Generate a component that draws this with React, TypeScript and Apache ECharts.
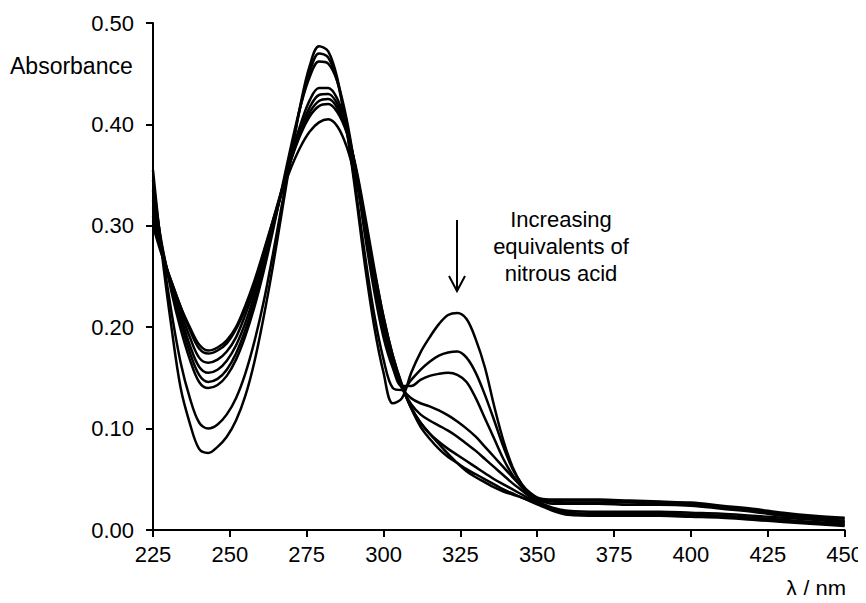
import React, { useEffect, useRef } from "react";
import * as echarts from "echarts";

const wavelengths = [225, 228, 231, 234, 237, 240, 243, 246, 249, 252, 255, 258, 261, 264, 267, 270, 273, 276, 279, 282, 285, 288, 291, 294, 297, 300, 303, 306, 309, 312, 315, 318, 321, 324, 327, 330, 333, 336, 339, 342, 345, 348, 351, 355, 360, 370, 380, 390, 400, 410, 420, 430, 440, 450];

const curveA = [0.355, 0.27, 0.2, 0.14, 0.105, 0.08, 0.076, 0.082, 0.092, 0.108, 0.132, 0.166, 0.21, 0.26, 0.315, 0.37, 0.42, 0.458, 0.477, 0.472, 0.445, 0.395, 0.33, 0.26, 0.2, 0.155, 0.125, 0.13, 0.155, 0.175, 0.19, 0.203, 0.212, 0.214, 0.208, 0.188, 0.16, 0.122, 0.088, 0.062, 0.045, 0.036, 0.031, 0.03, 0.03, 0.03, 0.029, 0.028, 0.027, 0.024, 0.021, 0.017, 0.014, 0.012];
const curveB = [0.345, 0.275, 0.215, 0.165, 0.13, 0.106, 0.1, 0.104, 0.114, 0.13, 0.154, 0.186, 0.225, 0.272, 0.322, 0.372, 0.418, 0.452, 0.47, 0.466, 0.442, 0.395, 0.335, 0.27, 0.212, 0.168, 0.14, 0.138, 0.148, 0.158, 0.166, 0.172, 0.175, 0.176, 0.17, 0.155, 0.133, 0.108, 0.082, 0.06, 0.045, 0.035, 0.03, 0.029, 0.029, 0.029, 0.028, 0.027, 0.026, 0.023, 0.02, 0.016, 0.013, 0.011];
const curveC = [0.335, 0.28, 0.235, 0.198, 0.168, 0.146, 0.14, 0.143, 0.152, 0.168, 0.191, 0.22, 0.255, 0.295, 0.338, 0.38, 0.418, 0.447, 0.462, 0.46, 0.442, 0.405, 0.352, 0.29, 0.235, 0.19, 0.16, 0.142, 0.142, 0.148, 0.152, 0.154, 0.155, 0.153, 0.146, 0.13, 0.11, 0.09, 0.07, 0.054, 0.042, 0.034, 0.029, 0.028, 0.027, 0.027, 0.027, 0.026, 0.025, 0.022, 0.019, 0.015, 0.012, 0.009];
const curveD = [0.325, 0.278, 0.24, 0.205, 0.175, 0.153, 0.146, 0.149, 0.158, 0.174, 0.197, 0.226, 0.26, 0.298, 0.335, 0.37, 0.4, 0.424, 0.436, 0.436, 0.425, 0.398, 0.355, 0.3, 0.245, 0.198, 0.163, 0.14, 0.13, 0.125, 0.122, 0.118, 0.113, 0.107, 0.1, 0.092, 0.082, 0.072, 0.062, 0.052, 0.043, 0.035, 0.029, 0.026, 0.026, 0.026, 0.025, 0.025, 0.024, 0.021, 0.018, 0.014, 0.011, 0.008];
const curveE = [0.318, 0.275, 0.24, 0.21, 0.182, 0.161, 0.155, 0.158, 0.167, 0.182, 0.204, 0.232, 0.265, 0.3, 0.335, 0.367, 0.395, 0.417, 0.429, 0.43, 0.42, 0.395, 0.355, 0.302, 0.248, 0.2, 0.165, 0.14, 0.124, 0.114, 0.108, 0.103, 0.098, 0.092, 0.085, 0.078, 0.07, 0.062, 0.054, 0.046, 0.039, 0.032, 0.027, 0.022, 0.019, 0.018, 0.018, 0.018, 0.017, 0.016, 0.014, 0.012, 0.01, 0.008];
const curveF = [0.31, 0.272, 0.242, 0.215, 0.19, 0.17, 0.165, 0.168, 0.176, 0.19, 0.212, 0.238, 0.27, 0.303, 0.336, 0.366, 0.392, 0.412, 0.423, 0.425, 0.416, 0.393, 0.356, 0.305, 0.252, 0.205, 0.168, 0.141, 0.121, 0.106, 0.095, 0.087, 0.08, 0.074, 0.068, 0.062, 0.056, 0.05, 0.045, 0.04, 0.035, 0.03, 0.026, 0.021, 0.017, 0.016, 0.016, 0.016, 0.015, 0.014, 0.012, 0.01, 0.008, 0.006];
const curveG = [0.305, 0.272, 0.245, 0.22, 0.197, 0.179, 0.174, 0.177, 0.184, 0.198, 0.218, 0.243, 0.273, 0.305, 0.337, 0.366, 0.39, 0.408, 0.418, 0.42, 0.412, 0.392, 0.358, 0.31, 0.258, 0.21, 0.172, 0.143, 0.12, 0.102, 0.09, 0.08, 0.072, 0.066, 0.06, 0.055, 0.05, 0.045, 0.04, 0.036, 0.032, 0.028, 0.025, 0.02, 0.016, 0.015, 0.015, 0.015, 0.014, 0.013, 0.011, 0.009, 0.007, 0.005];
const curveH = [0.3, 0.27, 0.245, 0.22, 0.2, 0.183, 0.177, 0.18, 0.187, 0.2, 0.221, 0.246, 0.275, 0.305, 0.334, 0.358, 0.378, 0.393, 0.402, 0.405, 0.398, 0.378, 0.345, 0.3, 0.255, 0.21, 0.172, 0.143, 0.12, 0.106, 0.095, 0.085, 0.075, 0.066, 0.058, 0.052, 0.047, 0.042, 0.038, 0.035, 0.032, 0.028, 0.024, 0.019, 0.015, 0.014, 0.014, 0.014, 0.013, 0.012, 0.01, 0.008, 0.006, 0.004];

const curves = [curveA, curveB, curveC, curveD, curveE, curveF, curveG, curveH];

const yTicks = [0, 0.1, 0.2, 0.3, 0.4, 0.5];
const xTicks = [225, 250, 275, 300, 325, 350, 375, 400, 425, 450];

const yAxisTitle = "Absorbance";
const xAxisTitle = "λ / nm";
const annotation = ["Increasing", "equivalents of", "nitrous acid"];

const FONT = "'Liberation Sans', Arial, Helvetica, sans-serif";

export default function App() {
  const ref = useRef<HTMLDivElement>(null);

  useEffect(() => {
    if (!ref.current) return;
    const chart = echarts.init(ref.current, null, { renderer: "svg" });
    const series = curves.map((c, i) => ({
      type: "line",
      name: "c" + i,
      data: wavelengths.map((w, j) => [w, c[j]]),
      showSymbol: false,
      smooth: 0.35,
      lineStyle: { color: "#000", width: 2.5 },
      silent: true,
    }));
    chart.setOption({
      animation: false,
      backgroundColor: "#fff",
      grid: { left: 153, right: 21, top: 23, bottom: 73, containLabel: false },
      xAxis: {
        type: "value",
        min: xTicks[0],
        max: xTicks[xTicks.length - 1],
        interval: 25,
        axisLine: { show: true, lineStyle: { color: "#000", width: 2 } },
        axisTick: { show: true, inside: false, length: 7, lineStyle: { color: "#000", width: 2 } },
        splitLine: { show: false },
        axisLabel: {
          color: "#000",
          fontSize: 22,
          fontFamily: FONT,
          margin: 13,
          formatter: (v: number) => String(v),
        },
      },
      yAxis: {
        type: "value",
        min: yTicks[0],
        max: yTicks[yTicks.length - 1],
        interval: 0.1,
        axisLine: { show: true, lineStyle: { color: "#000", width: 2 } },
        axisTick: { show: true, inside: false, length: 7, lineStyle: { color: "#000", width: 2 } },
        splitLine: { show: false },
        axisLabel: {
          color: "#000",
          fontSize: 22,
          fontFamily: FONT,
          margin: 19,
          formatter: (v: number) => v.toFixed(2),
        },
      },
      graphic: [
        {
          type: "text",
          left: 10,
          top: 54,
          style: { text: yAxisTitle, fontSize: 23, fontFamily: FONT, fill: "#000" },
        },
        {
          type: "text",
          right: 20,
          top: 577,
          style: { text: xAxisTitle, fontSize: 22, fontFamily: FONT, fill: "#000" },
        },
        {
          type: "text",
          x: 561,
          y: 206,
          style: {
            text: annotation.join("\n"),
            fontSize: 22,
            lineHeight: 27,
            fontFamily: FONT,
            fill: "#000",
            align: "center",
            verticalAlign: "top",
          },
        },
        {
          type: "line",
          shape: { x1: 457, y1: 220, x2: 457, y2: 290 },
          style: { stroke: "#000", lineWidth: 2 },
        },
        {
          type: "polyline",
          shape: { points: [[449, 276], [457, 291], [465, 276]] },
          style: { stroke: "#000", lineWidth: 2, fill: "none" },
        },
      ],
      series,
    });
    return () => chart.dispose();
  }, []);

  return <div ref={ref} style={{ width: 866, height: 603, margin: -8 }} />;
}
